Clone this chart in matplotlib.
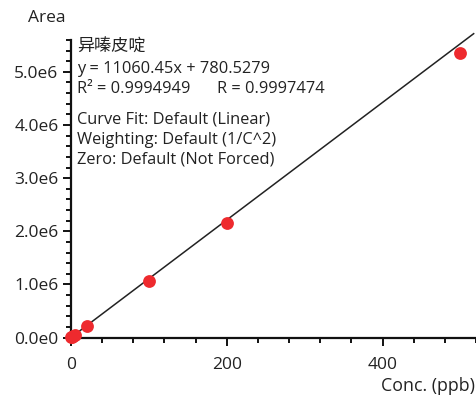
import matplotlib
matplotlib.use("Agg")
import matplotlib.pyplot as plt
import numpy as np
from matplotlib.ticker import MultipleLocator, FuncFormatter

plt.rcParams['font.family'] = ['Open Sans', 'Noto Sans CJK SC', 'DejaVu Sans']

# Data
conc = [0.5, 1, 2, 5, 20, 100, 200, 500]
area = [6000, 12000, 23000, 56000, 220000, 1060000, 2160000, 5350000]
slope = 11060.45
intercept = 780.5279
compound = "异嗪皮啶"
info_lines = [
    "y = 11060.45x + 780.5279",
]
r2_text = "R² = 0.9994949"
r_text = "R = 0.9997474"
fit_lines = [
    "Curve Fit: Default (Linear)",
    "Weighting: Default (1/C^2)",
    "Zero: Default (Not Forced)",
]
x_label = "Conc. (ppb)"
y_label = "Area"

W, H = 476, 397
fig = plt.figure(figsize=(W / 100, H / 100), dpi=100)
ax = fig.add_axes([71 / W, (H - 337.5) / H, (W - 71) / W, (337.5 - 40) / H])

txt_color = "#222222"
ax.set_xlim(0, 520)
ax.set_ylim(0, 5.6e6)

xs = np.array([0, 517])
ax.plot(xs, slope * xs + intercept, color="#222222", lw=1.1, clip_on=False, zorder=2)
ax.scatter(conc, area, s=85, color="#ee2a2e", zorder=3, clip_on=False, linewidths=0)

for s in ["top", "right"]:
    ax.spines[s].set_visible(False)
for s in ["left", "bottom"]:
    ax.spines[s].set_linewidth(1.6)
    ax.spines[s].set_color("#111111")

ax.xaxis.set_major_locator(MultipleLocator(200))
ax.xaxis.set_minor_locator(MultipleLocator(40))
ax.yaxis.set_major_locator(MultipleLocator(1e6))
ax.yaxis.set_minor_locator(MultipleLocator(2e5))
ax.yaxis.set_major_formatter(FuncFormatter(lambda v, p: f"{v/1e6:.1f}e{0 if v == 0 else 6}"))
ax.xaxis.set_major_formatter(FuncFormatter(lambda v, p: f"{v:.0f}"))

tfs = 12.5
ax.tick_params(which="major", length=6, width=1.4, color="#111111", labelsize=tfs,
               labelcolor=txt_color, pad=3)
ax.tick_params(which="minor", length=3.5, width=1.4, color="#111111")
ax.tick_params(axis="x", which="major", pad=8)

fig.text(47 / W, 1 - 18 / H, y_label, ha="center", va="center", fontsize=tfs, color=txt_color)
fig.text(475 / W, 1 - 386 / H, x_label, ha="right", va="center", fontsize=12.8, color=txt_color)

fs = 11.8
x0 = 77 / W
fig.text(x0, 1 - 48 / H, compound, ha="left", va="center", fontsize=12.3, color=txt_color)
fig.text(x0, 1 - 69 / H, info_lines[0], ha="left", va="center", fontsize=fs, color=txt_color)
fig.text(x0, 1 - 89 / H, r2_text, ha="left", va="center", fontsize=fs, color=txt_color)
fig.text(217 / W, 1 - 89 / H, r_text, ha="left", va="center", fontsize=fs, color=txt_color)
for i, t in enumerate(fit_lines):
    fig.text(x0, 1 - (119 + 20.5 * i) / H, t, ha="left", va="center", fontsize=fs, color=txt_color)

fig.savefig("out.png", dpi=100)
